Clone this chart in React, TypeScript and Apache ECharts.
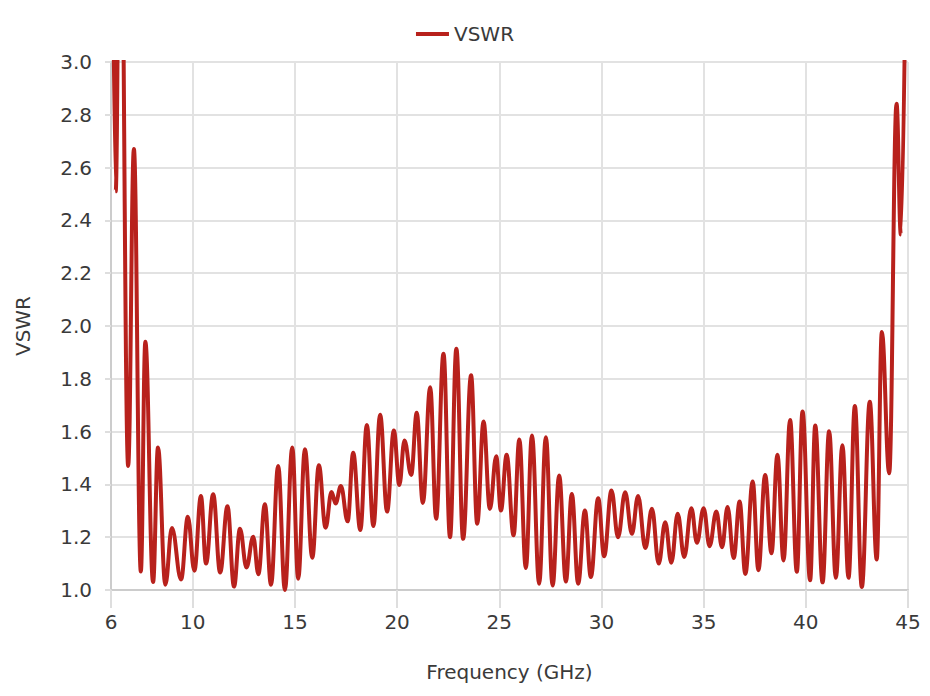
import React, { useEffect, useRef } from "react";
import * as echarts from "echarts";

const freqGHz: number[] = [
  6.05, 6.23, 6.45, 6.84, 7.12, 7.46, 7.68, 8.06, 8.3, 8.66, 8.98, 9.43, 9.76, 10.08,
  10.4, 10.65, 11.0, 11.34, 11.7, 12.02, 12.31, 12.63, 12.96, 13.21, 13.53, 13.83, 14.18,
  14.51, 14.87, 15.16, 15.49, 15.85, 16.17, 16.5, 16.79, 16.99, 17.25, 17.58, 17.85, 18.2,
  18.52, 18.84, 19.17, 19.51, 19.84, 20.11, 20.36, 20.69, 20.96, 21.26, 21.62, 21.91, 22.27,
  22.59, 22.9, 23.23, 23.62, 23.92, 24.23, 24.54, 24.85, 25.08, 25.36, 25.7, 25.98, 26.3,
  26.6, 26.95, 27.28, 27.61, 27.93, 28.26, 28.55, 28.86, 29.19, 29.48, 29.84, 30.13, 30.49,
  30.81, 31.16, 31.49, 31.79, 32.15, 32.47, 32.8, 33.12, 33.42, 33.73, 34.05, 34.4, 34.67,
  35.0, 35.29, 35.62, 35.9, 36.17, 36.47, 36.76, 37.04, 37.4, 37.68, 38.01, 38.32, 38.61,
  38.91, 39.23, 39.56, 39.84, 40.21, 40.46, 40.82, 41.14, 41.47, 41.79, 42.09, 42.4, 42.74,
  43.13, 43.47, 43.72, 44.08, 44.44, 44.65, 44.92,
];

const vswr: number[] = [
  3.8, 2.51, 4.0, 1.47, 2.67, 1.07, 1.94, 1.03, 1.54, 1.02, 1.235, 1.04, 1.277, 1.073,
  1.356, 1.1, 1.363, 1.066, 1.317, 1.013, 1.232, 1.085, 1.202, 1.06, 1.325, 1.02, 1.47,
  1.0, 1.54, 1.043, 1.533, 1.122, 1.473, 1.236, 1.371, 1.328, 1.394, 1.26, 1.52, 1.227,
  1.625, 1.242, 1.664, 1.297, 1.604, 1.398, 1.566, 1.436, 1.671, 1.33, 1.768, 1.27, 1.895,
  1.2, 1.914, 1.194, 1.813, 1.251, 1.638, 1.307, 1.507, 1.301, 1.512, 1.207, 1.57, 1.083,
  1.585, 1.024, 1.579, 1.017, 1.434, 1.032, 1.364, 1.024, 1.301, 1.049, 1.348, 1.128, 1.377,
  1.2, 1.37, 1.213, 1.356, 1.159, 1.308, 1.1, 1.257, 1.103, 1.289, 1.125, 1.31, 1.179,
  1.31, 1.166, 1.297, 1.162, 1.314, 1.121, 1.335, 1.061, 1.411, 1.075, 1.436, 1.139, 1.512,
  1.112, 1.644, 1.069, 1.676, 1.037, 1.623, 1.029, 1.601, 1.046, 1.548, 1.046, 1.697, 1.011,
  1.713, 1.116, 1.977, 1.442, 2.842, 2.347, 3.6,
];

const xTickValues: number[] = [6, 10, 15, 20, 25, 30, 35, 40, 45];

const seriesName = "VSWR";
const xAxisName = "Frequency (GHz)";
const yAxisName = "VSWR";

const FONT = "'DejaVu Sans', sans-serif";
const TEXT_COLOR = "#3a3a3a";

export default function App() {
  const ref = useRef<HTMLDivElement>(null);

  useEffect(() => {
    if (!ref.current) return;
    const chart = echarts.init(ref.current, undefined, { renderer: "svg" });
    const data = freqGHz.map((f, i) => [f, vswr[i]]);
    chart.setOption({
      animation: false,
      textStyle: { fontFamily: FONT },
      legend: {
        top: 19,
        left: "center",
        icon: "rect",
        itemWidth: 33,
        itemHeight: 4,
        itemGap: 10,
        textStyle: { fontFamily: FONT, fontSize: 20, color: TEXT_COLOR },
        data: [seriesName],
      },
      grid: { left: 111, right: 22, top: 62, bottom: 106, containLabel: false },
      xAxis: {
        type: "value",
        min: 6,
        max: 45,
        name: xAxisName,
        nameLocation: "middle",
        nameGap: 72,
        nameTextStyle: { fontFamily: FONT, fontSize: 20, color: TEXT_COLOR },
        axisLine: { show: true, lineStyle: { color: "#cccccc", width: 2 } },
        axisTick: {
          show: true,
          length: 18,
          customValues: xTickValues,
          lineStyle: { color: "#dedede", width: 2 },
        },
        axisLabel: {
          customValues: xTickValues,
          margin: 22,
          fontFamily: FONT,
          fontSize: 20,
          color: TEXT_COLOR,
        },
        splitLine: { show: true, lineStyle: { color: "#e2e2e2", width: 2 } },
      },
      yAxis: {
        type: "value",
        min: 1,
        max: 3,
        interval: 0.2,
        name: yAxisName,
        nameLocation: "middle",
        nameGap: 78,
        nameRotate: 90,
        nameTextStyle: { fontFamily: FONT, fontSize: 20, color: TEXT_COLOR },
        axisLine: { show: true, lineStyle: { color: "#cccccc", width: 2 } },
        axisTick: { show: true, length: 6, lineStyle: { color: "#dedede", width: 2 } },
        axisLabel: {
          margin: 19,
          fontFamily: FONT,
          fontSize: 20,
          color: TEXT_COLOR,
          formatter: (v: number) => v.toFixed(1),
        },
        splitLine: { show: true, lineStyle: { color: "#e2e2e2", width: 2 } },
      },
      series: [
        {
          name: seriesName,
          type: "line",
          data,
          smooth: 0.4,
          smoothMonotone: "x",
          showSymbol: false,
          symbol: "none",
          clip: true,
          lineStyle: { color: "#B8211C", width: 4 },
          itemStyle: { color: "#B8211C" },
        },
      ],
    });
    return () => chart.dispose();
  }, []);

  return (
    <div
      ref={ref}
      style={{ position: "absolute", left: 0, top: 0, width: 930, height: 696 }}
    />
  );
}
